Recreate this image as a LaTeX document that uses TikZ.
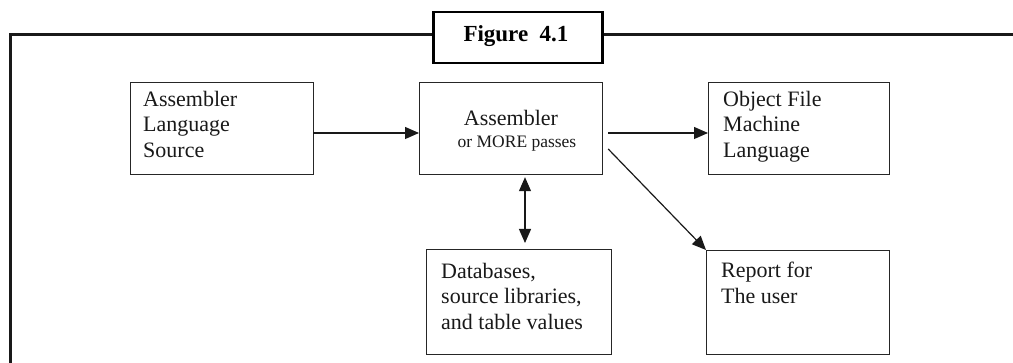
\documentclass[tikz,border=0pt]{standalone}
\usepackage{fontspec}
\setmainfont{Liberation Serif}
\usetikzlibrary{arrows.meta,calc}
\begin{document}
\begin{tikzpicture}[x=1pt,y=-1pt,
  box/.style={draw=black!85,line width=1.2pt,minimum width=#1,inner sep=0pt,anchor=north west},
  txt/.style={align=left,inner sep=0pt,anchor=north west,font=\fontsize{22}{25.5}\selectfont,text=black!90},
  arr/.style={line width=1.2pt,black!90,-{Triangle[length=14pt,width=12pt]}},
  darr/.style={line width=1.2pt,black!90,{Triangle[length=14pt,width=12pt]}-{Triangle[length=14pt,width=12pt]}},
  frame/.style={line width=3pt,black!90}]
\useasboundingbox (0,0) rectangle (1013,363);
% boxes
\node[box=183pt,minimum height=92pt] (b1) at (130,82) {};
\node[box=183pt,minimum height=92pt] (b2) at (419,82) {};
\node[box=181pt,minimum height=92pt] (b3) at (708,82) {};
\node[box=185pt,minimum height=105pt] (b4) at (426,249) {};
\node[box=183pt,minimum height=104pt] (b5) at (706,250) {};
\node[draw=black,line width=2.5pt,minimum width=169pt,minimum height=51pt,inner sep=0pt,anchor=north west] (fig) at (432,11) {};
% texts
\node[txt] (t1) at (143,91) {Assembler\\Language\\Source};
\node[inner sep=0pt,anchor=base,font=\fontsize{22}{25}\selectfont,text=black!90] (t2a) at (511,126) {Assembler};
\node[inner sep=0pt,anchor=base,font=\fontsize{17.5}{20}\selectfont,text=black!90] (t2b) at (517,148) {or MORE passes};
\node[txt] (t3) at (723,91) {Object File\\Machine\\Language};
\node[txt] (t4) at (441,263) {Databases,\\source libraries,\\and table values};
\node[txt] (t5) at (721,262) {Report for\\The user};
\node[inner sep=0pt,anchor=base,font=\fontsize{23}{25}\selectfont\bfseries] (ft) at (516,42) {Figure~~4.1};
% frame
\coordinate (fl) at (10.5,363);
\coordinate (fc) at (10.5,35);
\coordinate (fr) at (1013,35);
\draw[frame] (fl) -- (fc) -- (fc -| fig.west);
\draw[frame] (fr -| fig.east) -- (fr);
% connectors
\draw[arr] ($(b1.north east)+(-1,51)$) -- ($(b2.north west)+(0,51)$);
\draw[arr] ($(b2.north east)+(5,51)$) -- ($(b3.north west)+(0,51)$);
\draw[arr] ($(b2.north east)+(5,67)$) -- (b5.north west);
\draw[darr] ($(b2.south west)+(106,2)$) -- ($(b4.north west)+(99,-6)$);
\end{tikzpicture}
\end{document}
